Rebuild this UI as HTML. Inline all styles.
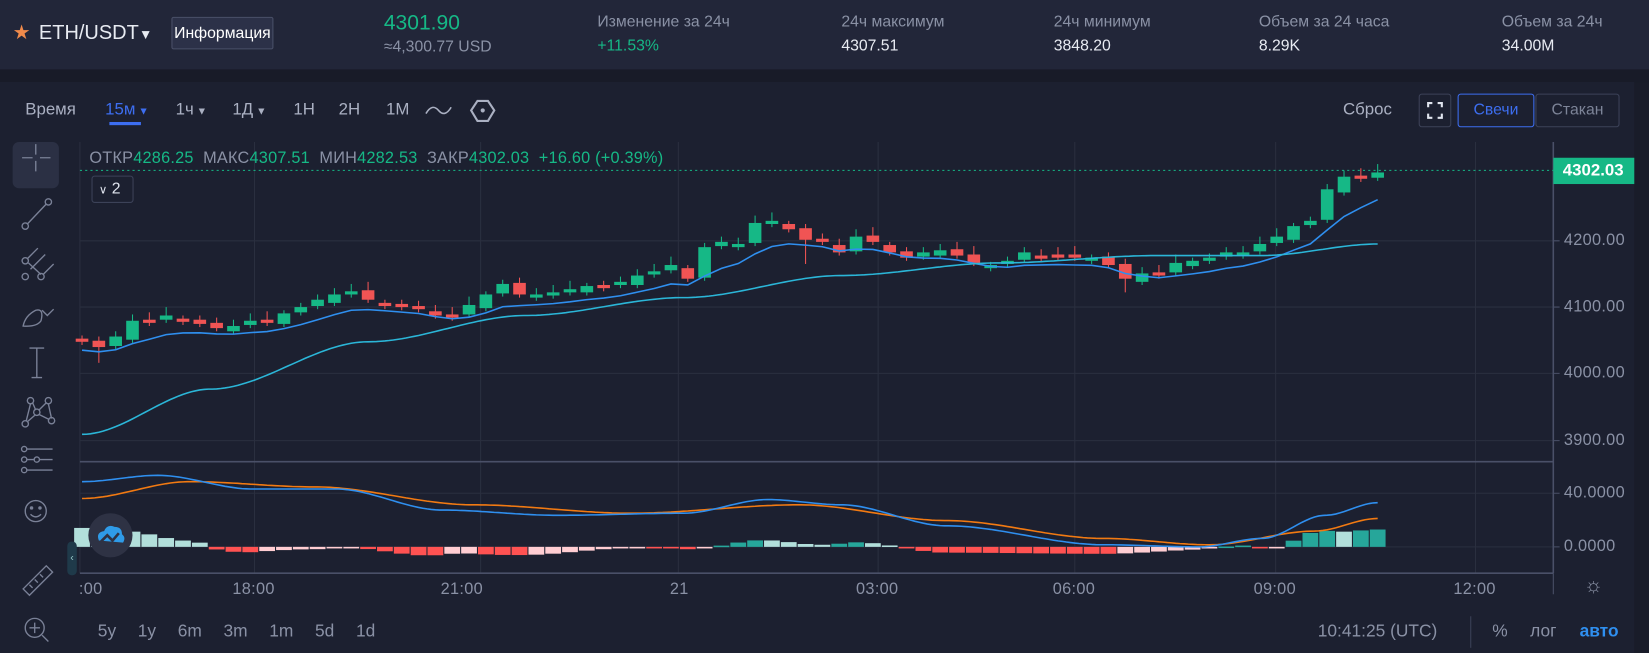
<!DOCTYPE html>
<html><head><meta charset="utf-8">
<style>
*{margin:0;padding:0;box-sizing:border-box}
html,body{width:1649px;height:653px;overflow:hidden;background:#1c2030}
#w{position:absolute;left:0;top:0;width:1568px;height:621px;transform:scale(1.05166);transform-origin:0 0;background:#1c2030;font-family:"Liberation Sans",sans-serif;color:#c8cdd8}
.a{position:absolute;white-space:nowrap}
.g{color:#8a91a5}
.gr{color:#16b886}
.p{font-size:15.5px;letter-spacing:0.3px}
</style></head><body><div id="w">
<div class="a" style="left:0;top:0;width:1568px;height:66px;background:#222639"></div>
<div class="a" style="left:0;top:66px;width:1568px;height:12px;background:#181b28"></div>
<div class="a" style="left:1554px;top:78px;width:14px;height:543px;background:#191c29"></div>
<div class="a" style="left:12px;top:20px;font-size:19px;color:#f08a4b">★</div>
<div class="a" style="left:37px;top:21px;font-size:19px;color:#e8ebf2">ETH/USDT<span style="font-size:13px">▼</span></div>
<div class="a" style="left:163px;top:16px;width:97px;height:31px;background:#2c3148;border:1px solid #4a5068;border-radius:2px;font-size:15px;color:#fff;text-align:center;line-height:29px">Информация</div>
<div class="a gr" style="left:365px;top:11px;font-size:20px">4301.90</div>
<div class="a g" style="left:365px;top:36px;font-size:15px">≈4,300.77 USD</div>
<div class="a g" style="left:568px;top:12px;font-size:15px">Изменение за 24ч</div>
<div class="a gr" style="left:568px;top:35px;font-size:15px">+11.53%</div>
<div class="a g" style="left:800px;top:12px;font-size:15px">24ч максимум</div>
<div class="a" style="left:800px;top:35px;font-size:15px;color:#e8ebf2">4307.51</div>
<div class="a g" style="left:1002px;top:12px;font-size:15px">24ч минимум</div>
<div class="a" style="left:1002px;top:35px;font-size:15px;color:#e8ebf2">3848.20</div>
<div class="a g" style="left:1197px;top:12px;font-size:15px">Объем за 24 часа</div>
<div class="a" style="left:1197px;top:35px;font-size:15px;color:#e8ebf2">8.29K</div>
<div class="a g" style="left:1428px;top:12px;font-size:15px">Объем за 24ч</div>
<div class="a" style="left:1428px;top:35px;font-size:15px;color:#e8ebf2">34.00M</div>

<div class="a" style="left:24px;top:96px;font-size:16px;color:#aab0c2">Время</div>
<div class="a" style="left:100px;top:96px;font-size:16px;color:#3d6ef0">15м<span style="font-size:10px"> ▼</span></div>
<div class="a" style="left:104px;top:116px;width:30px;height:3px;background:#3d6ef0"></div>
<div class="a" style="left:167px;top:96px;font-size:16px;color:#aab0c2">1ч<span style="font-size:10px"> ▼</span></div>
<div class="a" style="left:221px;top:96px;font-size:16px;color:#aab0c2">1Д<span style="font-size:10px"> ▼</span></div>
<div class="a" style="left:279px;top:96px;font-size:16px;color:#aab0c2">1Н</div>
<div class="a" style="left:322px;top:96px;font-size:16px;color:#aab0c2">2Н</div>
<div class="a" style="left:367px;top:96px;font-size:16px;color:#aab0c2">1М</div>
<svg class="a" style="left:400px;top:90px" width="80" height="30"><path d="M5 18 Q11 8 17 15 T29 12" stroke="#aab0c2" fill="none" stroke-width="1.5"/><polygon points="54,6 64,6 70,15 64,25 54,25 48,15" stroke="#aab0c2" fill="none" stroke-width="2"/><circle cx="59" cy="15" r="2" fill="#aab0c2"/></svg>
<div class="a" style="left:1277px;top:96px;font-size:16px;color:#aab0c2">Сброс</div>
<div class="a" style="left:1349px;top:89px;width:31px;height:32px;border:1px solid #3c4258;border-radius:3px"></div>
<svg class="a" style="left:1349px;top:89px" width="31" height="32"><path d="M9 13V9h4M18 9h4v4M22 19v4h-4M13 23H9v-4" stroke="#e0e4ee" stroke-width="2" fill="none"/></svg>
<div class="a" style="left:1386px;top:89px;width:73px;height:32px;border:1px solid #3d6ef0;border-radius:3px;color:#3d6ef0;font-size:15px;text-align:center;line-height:30px">Свечи</div>
<div class="a" style="left:1460px;top:89px;width:80px;height:32px;border:1px solid #3c4258;border-radius:3px;color:#7d8498;font-size:15px;text-align:center;line-height:30px">Стакан</div>

<div class="a" style="left:12px;top:135px;width:44px;height:44px;background:#2b3044;border-radius:6px"></div>
<svg class="a" style="left:0;top:0" width="75" height="621" stroke="#7a8197" fill="none" stroke-width="1.3">
<g transform="translate(0,150)"><path d="M21 0h10M38 0h10M34 -13v10M34 3v10"/></g>
<g transform="translate(0,203)"><circle cx="24" cy="12" r="3"/><circle cx="46" cy="-11" r="3"/><path d="M26 10L44 -9"/></g>
<g transform="translate(0,253)"><circle cx="24" cy="-5" r="3"/><circle cx="24" cy="10" r="3"/><circle cx="39" cy="10" r="3"/><path d="M26 -7l10-10M27 -3l12 11M41 8l10-10M29 3l14-14"/></g>
<g transform="translate(0,300)"><path d="M22 10q2-10 12-15 8-2 5 10-4 6-17 5zM40 -5l5 5 6-6"/></g>
<g transform="translate(0,345)"><path d="M28 -14h14M35 -14v28M30 14h10"/></g>
<g transform="translate(0,392)"><circle cx="29" cy="-11" r="3"/><circle cx="46" cy="-11" r="3"/><circle cx="35" cy="0" r="3"/><circle cx="24" cy="11" r="3"/><circle cx="49" cy="8" r="3"/><path d="M29 -8l-4 16M31 -9l3 7M44 -9l-7 7M46 -8l3 14M37 2l10 5M33 3l-7 6"/></g>
<g transform="translate(0,437)"><circle cx="23" cy="-10" r="2.5"/><path d="M26 -10h24"/><circle cx="23" cy="0" r="2.5"/><circle cx="35" cy="0" r="2.5"/><path d="M26 0h6M38 0h12"/><circle cx="23" cy="10" r="2.5"/><path d="M26 10h24"/></g>
<g transform="translate(0,486)"><circle cx="34" cy="0" r="10"/><circle cx="30" cy="-3" r="1" fill="#7a8197"/><circle cx="38" cy="-3" r="1" fill="#7a8197"/><path d="M29 3q5 5 10 0"/></g>
<g transform="translate(0,548)"><path d="M22 12l22-22 6 6-22 22zM28 8l3 3M33 3l3 3M38 -2l3 3"/></g>
<g transform="translate(0,597)"><circle cx="33" cy="0" r="9"/><path d="M33 -5v10M28 0h10M40 7l6 6"/></g>
</svg>

<svg class="a" style="left:0;top:0" width="1568" height="621" id="ch"></svg>

<div class="a g" style="left:85px;top:142px;font-size:15.5px;letter-spacing:0.2px">ОТКР<span class="gr">4286.25</span>&nbsp; МАКС<span class="gr">4307.51</span>&nbsp; МИН<span class="gr">4282.53</span>&nbsp; ЗАКР<span class="gr">4302.03</span>&nbsp; <span class="gr">+16.60 (+0.39%)</span></div>
<div class="a" style="left:87px;top:167px;width:40px;height:26px;border:1px solid #3c4258;border-radius:3px;font-size:15px;color:#e0e4ee;padding-left:6px;line-height:24px"><span style="font-size:11px">∨</span> 2</div>
<div class="a" style="left:1477px;top:150px;width:77px;height:25px;background:#16b886;color:#fff;font-size:16px;font-weight:bold;line-height:25px;padding-left:9px">4302.03</div>
<div class="a g p" style="left:1487px;top:220px">4200.00</div>
<div class="a g p" style="left:1487px;top:283px">4100.00</div>
<div class="a g p" style="left:1487px;top:346px">4000.00</div>
<div class="a g p" style="left:1487px;top:410px">3900.00</div>
<div class="a g p" style="left:1487px;top:460px">40.0000</div>
<div class="a g p" style="left:1487px;top:511px">0.0000</div>
<div class="a g p" style="left:75px;top:552px">:00</div>
<div class="a g p" style="left:221px;top:552px">18:00</div>
<div class="a g p" style="left:419px;top:552px">21:00</div>
<div class="a g p" style="left:637px;top:552px">21</div>
<div class="a g p" style="left:814px;top:552px">03:00</div>
<div class="a g p" style="left:1001px;top:552px">06:00</div>
<div class="a g p" style="left:1192px;top:552px">09:00</div>
<div class="a g p" style="left:1382px;top:552px">12:00</div>
<div class="a g" style="left:1506px;top:546px;font-size:20px">☼</div>
<div class="a g" style="left:93px;top:591px;font-size:16.5px;word-spacing:16px">5y 1y 6m 3m 1m 5d 1d</div>
<div class="a g" style="left:1253px;top:591px;font-size:16.5px">10:41:25 (UTC)</div>
<div class="a" style="left:1398px;top:586px;width:1px;height:30px;background:#3c4258"></div>
<div class="a g" style="left:1419px;top:591px;font-size:16.5px">%</div>
<div class="a g" style="left:1455px;top:591px;font-size:16.5px">лог</div>
<div class="a" style="left:1502px;top:591px;font-size:16.5px;color:#2f8fef;font-weight:bold">авто</div>
<div class="a" style="left:64px;top:515px;width:9px;height:32px;background:#1f3a4a;border-radius:4px;color:#9cc;font-size:10px;line-height:32px;text-align:center">‹</div>
<div class="a" style="left:84px;top:488px;width:42px;height:42px;border-radius:21px;background:#2e3244"></div>
<svg class="a" style="left:84px;top:488px" width="42" height="42"><path d="M10 26q-3-8 5-9 3-7 10-4 7 0 7 7 4 3 1 8z" fill="#2f9be8"/><path d="M12 27l6-6 5 5 6-7" stroke="#2e3244" stroke-width="2.5" fill="none"/></svg>
<script>
var s=document.getElementById('ch'),h='';
function L(x1,y1,x2,y2,c,w,d){h+='<line x1="'+x1+'" y1="'+y1+'" x2="'+x2+'" y2="'+y2+'" stroke="'+c+'" stroke-width="'+(w||1)+'"'+(d?' stroke-dasharray="'+d+'"':'')+'/>';}
[229,292,355,419,469,520].forEach(function(y){L(76,y,1477,y,'#2a2f3f');});
[76,242,457,645,835,1022,1213,1403].forEach(function(x){L(x,135,x,545,'#2a2f3f');});
L(76,439,1477,439,'#4a5068',1.5);L(76,545,1477,545,'#4a5068',1.5);L(1477,135,1477,545,'#4a5068',1.5);
L(1477,545,1477,565,'#4a5068',1);
[229,292,355,419,469,520].forEach(function(y){L(1477,y,1483,y,'#4a5068');});
L(76,162,1477,162,'#16b886',1,'2 3');
var C=[325,330,320,305,305,300,305,308,312,310,305,305,298,292,285,280,277,285,290,292,293,300,300,290,280,270,280,280,278,275,272,272,268,262,258,252,265,235,230,232,212,210,218,228,230,240,225,230,240,245,240,238,243,250,252,248,240,243,243,245,245,252,265,260,260,250,248,245,240,240,232,225,215,210,180,168,170,164];
var n=C.length,dx=(1310-78)/(n-1),o=[322];
for(var i=1;i<n;i++)o.push(C[i-1]+(i%3==0?3:-1));
var ema=[],e=C[0];
for(i=0;i<n;i++){e=e+(C[i]-e)*0.3;ema.push(e);}
var pts=[];
for(i=0;i<n;i++){var x=78+i*dx,op=o[i],cl=C[i],up=cl<op,col=up?'#16b886':'#f05454';
var t=Math.min(op,cl),b=Math.max(op,cl);if(b-t<3){b=t+3;}
var wt=t-3-((i*7)%6),wb=b+3+((i*5)%5);if(i==1)wb+=12;if(i==43)wb+=20;if(i==62)wb+=10;
L(x,wt,x,wb,col);h+='<rect x="'+(x-6)+'" y="'+t+'" width="12" height="'+(b-t)+'" fill="'+col+'"/>';
pts.push(x+','+(ema[i]+8).toFixed(1));}
h+='<polyline points="'+pts.join(' ')+'" fill="none" stroke="#2f8fef" stroke-width="1.5"/>';
function interp(k,x){for(var j=0;j<k.length-1;j++){if(x<=k[j+1][0]){var a=k[j],b=k[j+1],t=(x-a[0])/(b[0]-a[0]);t=t*t*(3-2*t);return a[1]+(b[1]-a[1])*t;}}return k[k.length-1][1];}
var slow=[[78,413],[200,370],[350,325],[500,300],[650,283],[800,262],[950,250],[1100,243],[1200,243],[1310,232]];
var dif=[[78,458],[150,452],[240,465],[320,465],[420,485],[530,490],[650,488],[730,475],[800,480],[900,500],[1050,518],[1140,520],[1200,512],[1260,490],[1310,478]];
var dea=[[78,474],[180,458],[300,463],[450,480],[600,488],[760,480],[900,495],[1050,512],[1150,518],[1250,505],[1310,493]];
function poly(k,c){var p=[];for(var x=78;x<=1310;x+=4)p.push(x+','+interp(k,x).toFixed(1));h+='<polyline points="'+p.join(' ')+'" fill="none" stroke="'+c+'" stroke-width="1.5"/>';}
var prev=0;
for(i=0;i<n;i++){var x=78+i*dx,v=(interp(dea,x)-interp(dif,x))*1.1;if(i<8)v=Math.max(v,18-i*2);
var col=v>=0?(v>=prev&&i>=8?'#26a69a':'#b2dfdb'):(v<=prev?'#ff5252':'#ffcdd2');
var y=v>=0?520-v:520,hh=Math.max(Math.abs(v),1.5);
h+='<rect x="'+(x-7.5)+'" y="'+y+'" width="15" height="'+hh+'" fill="'+col+'"/>';prev=v;}
poly(slow,'#2bb6d8');poly(dea,'#f27a12');poly(dif,'#2f8fef');
s.innerHTML=h;
</script>
</div></body></html>
